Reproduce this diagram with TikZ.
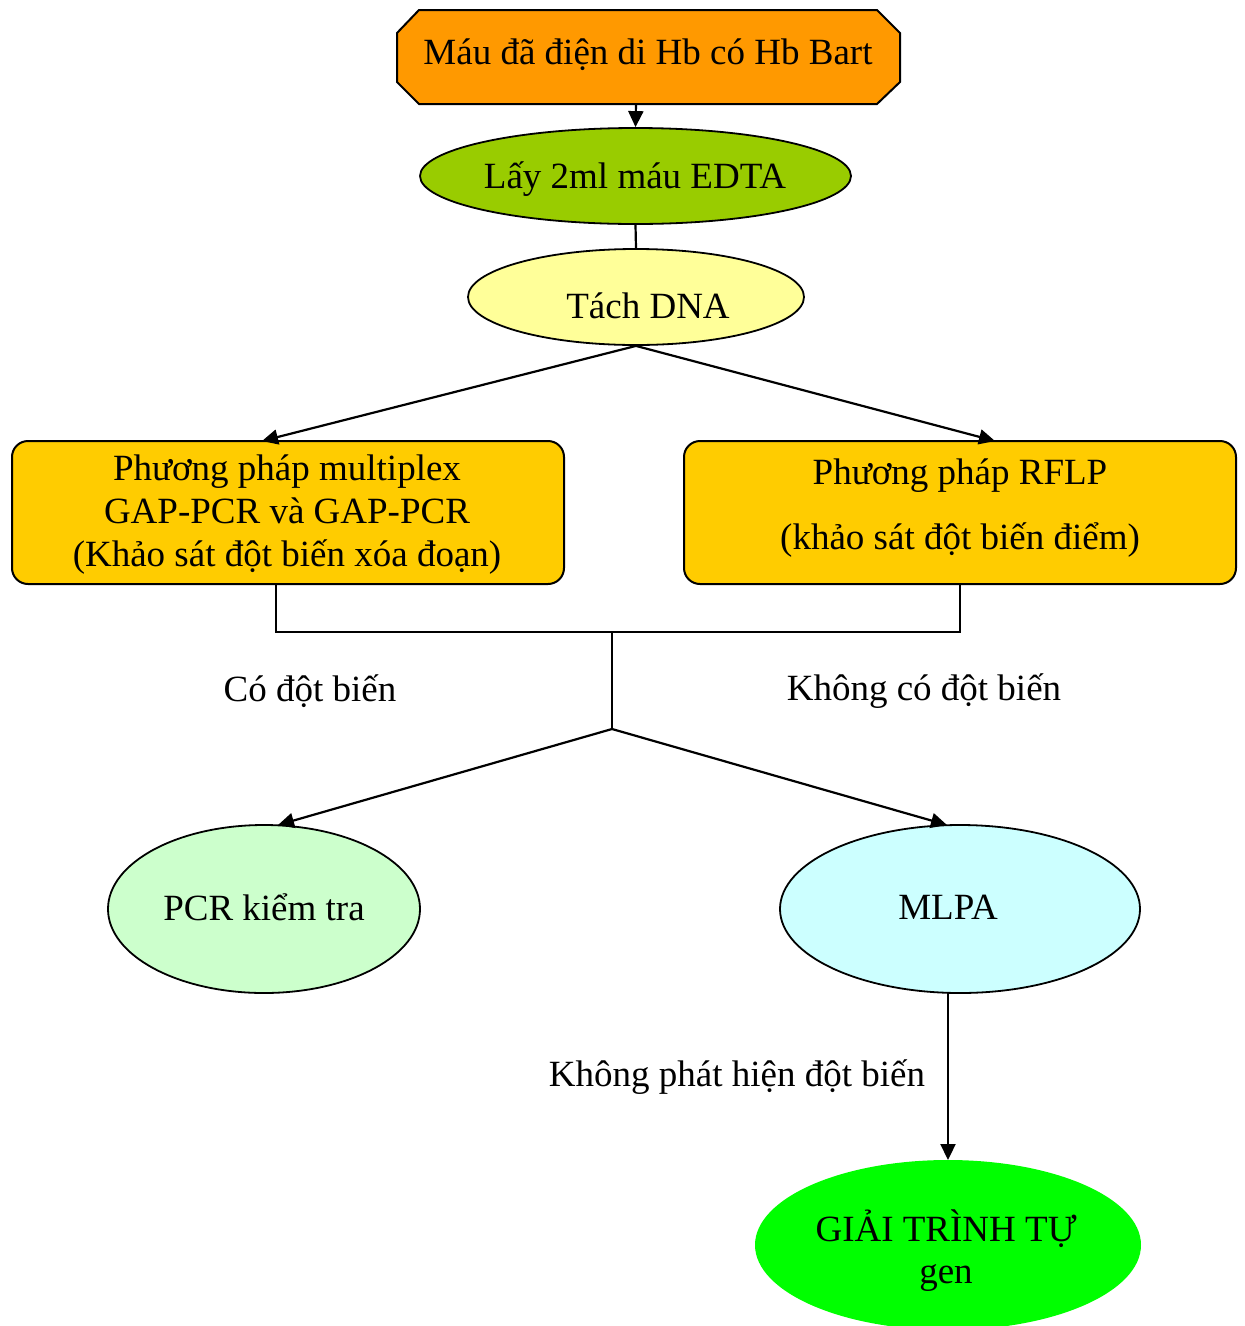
\documentclass[tikz,border=0pt]{standalone}
\usepackage{fontspec}
\setmainfont{Liberation Serif}
\usetikzlibrary{arrows.meta,shapes.geometric}
\definecolor{cOrange}{HTML}{FF9900}
\definecolor{cOlive}{HTML}{99CC00}
\definecolor{cLYellow}{HTML}{FFFF99}
\definecolor{cGold}{HTML}{FFCC00}
\definecolor{cLGreen}{HTML}{CCFFCC}
\definecolor{cLCyan}{HTML}{CCFFFF}
\definecolor{cGreen}{HTML}{00FF00}
\tikzset{
  txt/.style={font=\fontsize{37}{44}\selectfont, inner sep=0pt, align=center},
  ell/.style={ellipse, draw, line width=1.8pt, inner sep=0pt},
  rbox/.style={draw, line width=2pt, rounded corners=16pt, inner sep=0pt},
  conn/.style={line width=2.2pt},
  arr/.style={conn, -{Triangle[length=16pt,width=15pt]}},
}
\begin{document}
\begin{tikzpicture}[x=1pt,y=-1pt]
\useasboundingbox (0,0) rectangle (1245,1326);
% top octagon
\draw[line width=2pt, fill=cOrange, line join=miter]
  (419,10) -- (877,10) -- (900,33) -- (900,82) -- (877,104) -- (419,104) -- (397,82) -- (397,33) -- cycle;
\node[txt] (blood) at (648,55) {Máu đã điện di Hb có Hb Bart};
% ellipse 1
\node[ell, fill=cOlive, minimum width=431pt, minimum height=96pt] (edta) at (635.5,176) {};
\node[txt] (edtaT) at (635,179) {Lấy 2ml máu EDTA};
% ellipse 2
\node[ell, fill=cLYellow, minimum width=336pt, minimum height=96pt] (tach) at (636,297) {};
\node[txt] (tachT) at (648,306) {Tách DNA};
% boxes
\node[rbox, fill=cGold, minimum width=552pt, minimum height=143pt] (boxL) at (288,512.5) {};
\node[txt] (boxLT) at (287,515) {Phương pháp multiplex\\[-1pt]GAP-PCR và GAP-PCR\\[-1pt](Khảo sát đột biến xóa đoạn)};
\node[rbox, fill=cGold, minimum width=552pt, minimum height=143pt] (boxR) at (960,512.5) {};
\node[txt] (boxRT) at (960,508) {Phương pháp RFLP\\[21pt](khảo sát đột biến điểm)};
% labels
\node[txt] (lab1) at (310,691) {Có đột biến};
\node[txt] (lab2) at (924,691) {Không có đột biến};
\node[txt] (lab3) at (737,1077) {Không phát hiện đột biến};
% lower ellipses
\node[ell, fill=cLGreen, minimum width=312pt, minimum height=168pt] (pcr) at (264,909) {};
\node[txt] (pcrT) at (264,907) {PCR kiểm tra};
\node[ell, fill=cLCyan, minimum width=360pt, minimum height=168pt] (mlpa) at (960,909) {};
\node[txt] (mlpaT) at (948,907) {MLPA};
\node[ellipse, fill=cGreen, inner sep=0pt, minimum width=386pt, minimum height=170pt] (seq) at (948,1245) {};
\node[txt] (seqT) at (946,1251) {GIẢI TRÌNH TỰ\\[-2pt]gen};
% connector coordinates
\coordinate (oB) at (636,104);
\coordinate (aL) at (262,441);
\coordinate (aR) at (995,441);
\coordinate (jL) at (276,632);
\coordinate (jR) at (960,632);
\coordinate (jM) at (612,632);
\coordinate (fork) at (612,729);
\coordinate (pL) at (278,825);
\coordinate (pR) at (947,825);
\coordinate (mB) at (948,993);
\coordinate (sT) at (948,1160);
\coordinate (bL) at (276,584);
% connectors
\draw[arr] (oB) -- (edta.north);
\draw[conn] (edta.south) -- (tach.north);
\draw[arr] (tach.south) -- (aL);
\draw[arr] (tach.south) -- (aR);
\draw[conn, line join=miter] (bL) -- (jL) -- (jR) -- (boxR.south);
\draw[conn] (jM) -- (fork);
\draw[arr] (fork) -- (pL);
\draw[arr] (fork) -- (pR);
\draw[arr] (mB) -- (sT);
\end{tikzpicture}
\end{document}
